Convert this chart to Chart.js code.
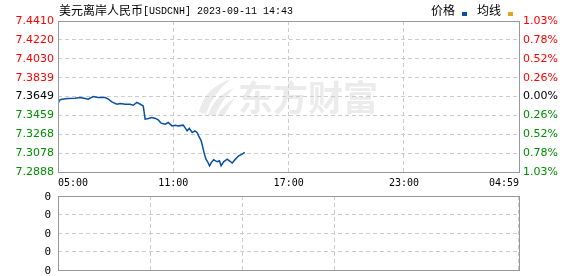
<!DOCTYPE html>
<html>
<head>
<meta charset="utf-8">
<script src="https://cdn.jsdelivr.net/npm/chart.js@4"></script>
<style>
html, body { margin: 0; padding: 0; background: #fff; overflow: hidden; }
#wrap { position: relative; width: 578px; height: 276px; }
#priceChart { position: absolute; left: 0; top: 0; }
#volChart { position: absolute; left: 0; top: 190px; }
</style>
</head>
<body>
<div id="wrap">
  <canvas id="priceChart" width="578" height="190"></canvas>
  <canvas id="volChart" width="578" height="86"></canvas>
</div>
<script>
// minutes after 05:00 and price at that minute
const minutes = [0, 3, 12, 31, 53, 69, 85, 94, 110, 125, 147, 157, 168, 184, 194, 210, 225, 235, 246, 257,
    266, 272, 282, 293, 304, 313, 322, 335, 344, 356, 366, 376, 391, 398, 403, 410, 419, 427, 434, 439,
    447, 452, 457, 462, 467, 473, 479, 486, 497, 504, 509, 517, 528, 535, 544, 554, 564, 575, 583];
const prices = [7.3595, 7.3612, 7.3622, 7.3629, 7.3632, 7.3639, 7.3629, 7.3622, 7.3649, 7.3639,
    7.3639, 7.3622, 7.3595, 7.3571, 7.3579, 7.3571, 7.3571, 7.3561, 7.3589, 7.3571,
    7.3554, 7.3421, 7.3428, 7.3438, 7.3428, 7.3413, 7.3380, 7.3370, 7.3387, 7.3353,
    7.3360, 7.3353, 7.3360, 7.3327, 7.3303, 7.3327, 7.3287, 7.3303, 7.3287, 7.3252,
    7.3202, 7.3136, 7.3068, 7.3018, 7.2991, 7.2950, 7.2985, 7.3011, 7.2991, 7.3001,
    7.2950, 7.2991, 7.3018, 7.3001, 7.2978, 7.3018, 7.3051, 7.3068, 7.3085];
const volume = [];

const prevClose = 7.3649;
const timeTicks = [0, 360, 720, 1080, 1439];
const timeLabels = ["05:00", "11:00", "17:00", "23:00", "04:59"];
const priceTicks = [7.4410, 7.4220, 7.4030, 7.3839, 7.3649, 7.3459, 7.3268, 7.3078, 7.2888];
const priceLabels = ["7.4410", "7.4220", "7.4030", "7.3839", "7.3649", "7.3459", "7.3268", "7.3078", "7.2888"];
const pctLabels = ["1.03%", "0.78%", "0.52%", "0.26%", "0.00%", "0.26%", "0.52%", "0.78%", "1.03%"];
const volTicks = [4, 3, 2, 1, 0];
const volLabels = ["0", "0", "0", "0", "0"];

const titleCn = "美元离岸人民币";
const titleEn = "[USDCNH] 2023-09-11 14:43";

function tickColor(c) {
    const v = c.tick.value;
    if (Math.abs(v - prevClose) < 1e-6) return "#000000";
    return v > prevClose ? "#ff0000" : "#008c00";
}

function innerGrid(n) {
    return c => (c.index === 0 || c.index === n - 1) ? "rgba(0,0,0,0)" : "#cccccc";
}

const boxPlugin = {
    id: "box",
    afterDatasetsDraw(chart) {
        const { ctx, chartArea: a } = chart;
        ctx.save();
        ctx.strokeStyle = "#999";
        ctx.lineWidth = 1;
        ctx.strokeRect(Math.round(a.left) + 0.5, Math.round(a.top) + 0.5,
            Math.round(a.right - a.left), Math.round(a.bottom - a.top));
        ctx.restore();
    }
};

const markPlugin = {
    id: "mark",
    beforeDraw(chart) {
        const ctx = chart.ctx;
        ctx.save();
        ctx.fillStyle = "#ebebeb";
        // swoosh
        ctx.beginPath();
        ctx.moveTo(199, 112);
        ctx.quadraticCurveTo(204, 88, 231, 79);
        ctx.quadraticCurveTo(213, 93, 206, 114);
        ctx.closePath();
        ctx.fill();
        ctx.beginPath();
        ctx.moveTo(208, 115);
        ctx.quadraticCurveTo(214, 96, 234, 88);
        ctx.quadraticCurveTo(221, 101, 215, 116);
        ctx.closePath();
        ctx.fill();
        ctx.beginPath();
        ctx.moveTo(217, 116);
        ctx.quadraticCurveTo(223, 105, 235, 98);
        ctx.quadraticCurveTo(228, 108, 224, 116);
        ctx.closePath();
        ctx.fill();
        ctx.font = 'bold 35px "Noto Sans CJK SC"';
        ctx.textBaseline = "middle";
        ctx.fillText("东方财富", 238, 98);
        ctx.restore();
    },
    afterDraw(chart) {
        const ctx = chart.ctx;
        ctx.save();
        ctx.fillStyle = "#000";
        ctx.textBaseline = "middle";
        ctx.font = '12px "Noto Sans CJK SC"';
        ctx.fillText(titleCn, 59, 10.5);
        ctx.font = '11px "Liberation Mono"';
        ctx.fillText(titleEn, 143, 11, 150);
        ctx.font = '12px "Noto Sans CJK SC"';
        ctx.fillText("价格", 431, 10.5);
        ctx.fillText("均线", 477, 10.5);
        ctx.fillStyle = "#0b4fa3";
        ctx.fillRect(462, 12, 5, 4);
        ctx.fillStyle = "#e3a321";
        ctx.fillRect(508, 12, 5, 4);
        ctx.restore();
    }
};

const priceChart = new Chart(document.getElementById("priceChart"), {
    type: "line",
    data: {
        datasets: [
            {
                label: "价格",
                data: minutes.map((m, i) => ({ x: m, y: prices[i] })),
                borderColor: "#0b4fa3",
                borderWidth: 1.5,
                pointRadius: 0,
                tension: 0,
                fill: false,
            }
        ]
    },
    options: {
        responsive: false,
        animation: false,
        layout: { padding: { top: 21, left: 0, right: 0, bottom: 0 } },
        plugins: { legend: { display: false }, tooltip: { enabled: false } },
        scales: {
            x: {
                type: "linear",
                min: 0,
                max: 1439,
                afterBuildTicks: axis => { axis.ticks = timeTicks.map(v => ({ value: v })); },
                afterFit: axis => { axis.height = 18; },
                grid: { color: innerGrid(timeTicks.length), drawTicks: false },
                border: { display: false, dash: [4, 3] },
                ticks: {
                    autoSkip: false,
                    maxRotation: 0,
                    align: "inner",
                    padding: 5,
                    color: "#000",
                    font: { family: "DejaVu Sans Mono", size: 10 },
                    callback: (v, i) => timeLabels[i]
                }
            },
            y: {
                position: "left",
                min: 7.2888,
                max: 7.4410,
                afterBuildTicks: axis => { axis.ticks = priceTicks.map(v => ({ value: v })); },
                afterFit: axis => { axis.width = 58; },
                grid: { color: innerGrid(priceTicks.length), drawTicks: false },
                border: { display: false, dash: [4, 3] },
                ticks: {
                    autoSkip: false,
                    padding: 4,
                    color: tickColor,
                    font: { family: "DejaVu Sans", size: 11 },
                    callback: (v, i) => priceLabels[i]
                }
            },
            y2: {
                position: "right",
                min: 7.2888,
                max: 7.4410,
                afterBuildTicks: axis => { axis.ticks = priceTicks.map(v => ({ value: v })); },
                afterFit: axis => { axis.width = 59; },
                grid: { display: false, drawTicks: false },
                border: { display: false },
                ticks: {
                    autoSkip: false,
                    padding: 4,
                    color: tickColor,
                    font: { family: "DejaVu Sans", size: 11 },
                    callback: (v, i) => pctLabels[i]
                }
            }
        }
    },
    plugins: [markPlugin, boxPlugin]
});

const volChart = new Chart(document.getElementById("volChart"), {
    type: "bar",
    data: {
        datasets: [
            {
                label: "成交量",
                data: volume,
                backgroundColor: "#0b4fa3",
            }
        ]
    },
    options: {
        responsive: false,
        animation: false,
        layout: { padding: { top: 6, left: 0, right: 59, bottom: 6 } },
        plugins: { legend: { display: false }, tooltip: { enabled: false } },
        scales: {
            x: {
                type: "linear",
                min: 0,
                max: 1439,
                afterBuildTicks: axis => { axis.ticks = timeTicks.map(v => ({ value: v })); },
                afterFit: axis => { axis.height = 0; },
                grid: { color: innerGrid(timeTicks.length), drawTicks: false },
                border: { display: false, dash: [4, 3] },
                ticks: { display: false }
            },
            y: {
                min: 0,
                max: 4,
                afterBuildTicks: axis => { axis.ticks = volTicks.map(v => ({ value: v })); },
                afterFit: axis => {
                    axis.width = 58;
                    axis.paddingTop = 0;
                    axis.paddingBottom = 0;
                },
                grid: { color: innerGrid(volTicks.length), drawTicks: false },
                border: { display: false, dash: [4, 3] },
                ticks: {
                    autoSkip: false,
                    padding: 7,
                    labelOffset: 1,
                    color: "#000",
                    font: { family: "DejaVu Sans Mono", size: 11, lineHeight: 1 },
                    callback: (v, i) => volLabels[i]
                }
            }
        }
    },
    plugins: [boxPlugin]
});
</script>
</body>
</html>
